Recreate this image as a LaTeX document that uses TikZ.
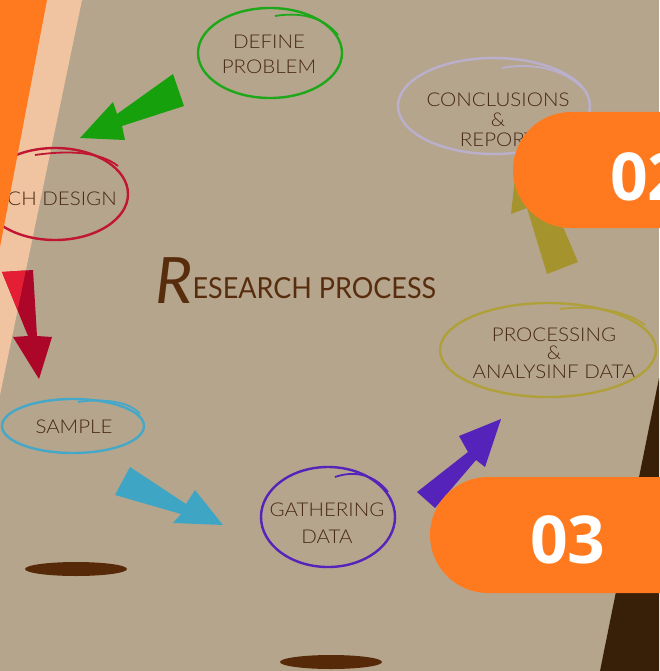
\documentclass[tikz,border=0pt]{standalone}
\usepackage{fontspec}
\setmainfont{Lato}
\IfFontExistsTF{Lato Light}{%
  \newfontfamily\stepfont[FakeStretch=1.08]{Lato Light}}{%
  \newfontfamily\stepfont[FakeStretch=1.08]{Lato}}
\newfontfamily\titlefont[FakeStretch=0.93]{Lato}
\newfontfamily\numfont{Open Sans}
\usetikzlibrary{calc,positioning}
\definecolor{paper}{RGB}{181,165,141}
\definecolor{peach}{RGB}{240,196,160}
\definecolor{bandorange}{RGB}{255,122,30}
\definecolor{darkwood}{RGB}{56,31,8}
\definecolor{shadowbrown}{RGB}{86,42,8}
\definecolor{inkbrown}{RGB}{72,40,22}
\definecolor{titlebrown}{RGB}{88,45,14}
\definecolor{stepgreen}{RGB}{30,168,25}
\definecolor{stepred}{RGB}{192,22,52}
\definecolor{stepblue}{RGB}{70,168,200}
\definecolor{steppurple}{RGB}{85,35,185}
\definecolor{stepolive}{RGB}{176,160,58}
\definecolor{steplilac}{RGB}{186,176,206}
\definecolor{arrowgreen}{RGB}{22,160,12}
\definecolor{arrowred}{RGB}{172,6,40}
\definecolor{brightred}{RGB}{228,30,52}
\definecolor{arrowblue}{RGB}{62,165,196}
\definecolor{arrowolive}{RGB}{165,148,45}

\begin{document}
\begin{tikzpicture}[x=1pt, y=-1pt,
    every node/.style={inner sep=0pt, align=center, text=inkbrown},
    steplabel/.style={font=\stepfont\fontsize{19}{#1}\selectfont},
    ring/.style={line width=2.4pt, #1},
    tail/.style={line width=1.8pt, #1}]
  \fill[paper] (0,0) rectangle (659,671);
  \useasboundingbox (0,0) rectangle (659,671);
  \fill[peach] (0,0) -- (82,0) -- (0,395) -- cycle;
  \fill[darkwood] (659,378) -- (600,671) -- (659,671) -- cycle;
  \fill[shadowbrown] (76,569) ellipse [x radius=51, y radius=7];
  \fill[shadowbrown] (331,662) ellipse [x radius=51, y radius=7];

  \node[steplabel=25] (define) at (269,54) {DEFINE\\PROBLEM};
  \node[steplabel=22, anchor=east] (design) at (117,199) {RESEARCH DESIGN};
  \node[steplabel=22] (sample) at (74,427) {SAMPLE};
  \node[steplabel=27] (gather) at (327,523) {GATHERING\\DATA};
  \node[steplabel=18.5] (process) at (554,353) {PROCESSING\\\&\\ANALYSINF DATA};
  \node[steplabel=20] (report) at (498,120) {CONCLUSIONS\\\&\\REPORT};

  \draw[ring=stepgreen] ($(define)+(1,-1)$) ellipse [x radius=72, y radius=45];
  \draw[ring=stepred] (55,194) ellipse [x radius=73, y radius=46];
  \draw[ring=stepblue] ($(sample)+(-1,-1)$) ellipse [x radius=71, y radius=27];
  \draw[ring=steppurple] ($(gather)+(1,-6)$) ellipse [x radius=67, y radius=50];
  \draw[ring=stepolive] ($(process)+(-6,-3)$) ellipse [x radius=108, y radius=47];
  \draw[ring=steplilac] ($(report)+(-4,-14)$) ellipse [x radius=96, y radius=48];

  \draw[tail=stepgreen] (275,16) .. controls (305,11) and (326,20) .. (338,35);
  \draw[tail=stepred] (35,155) .. controls (70,150) and (100,152) .. (118,166);
  \draw[tail=stepblue] (78,402) .. controls (105,398) and (130,402) .. (140,414);
  \draw[tail=steppurple] (335,477) .. controls (355,470) and (375,475) .. (388,492);
  \draw[tail=stepolive] (560,309) .. controls (590,305) and (625,310) .. (645,325);
  \draw[tail=steplilac] (502,68) .. controls (535,62) and (565,70) .. (582,88);

  \fill[arrowgreen] (173,74) -- (117,114) -- (113,102) -- (80,138) -- (125,140) -- (122,126) -- (184,106) -- cycle;
  \begin{scope}
    \clip (2,272) -- (33,270) -- (37,336) -- (52,337) -- (39,379) -- (13,337) -- (28,336) -- cycle;
    \fill[arrowred] (0,260) rectangle (60,390);
    \fill[brightred] (0,0) -- (82,0) -- (0,395) -- cycle;
  \end{scope}
  \fill[arrowblue] (130,467) -- (186,504) -- (195,490) -- (223,525) -- (173,523) -- (181,514) -- (115,495) -- cycle;
  \fill[steppurple] (417,492) -- (468,452) -- (459,436) -- (501,419) -- (485,467) -- (476,460) -- (435,508) -- cycle;
  \fill[arrowolive] (517,160) -- (565,196) -- (552,201) -- (578,262) -- (547,274) -- (527,208) -- (511,214) -- cycle;

  \node[anchor=base west, text=titlebrown] (title) at (155,303)
    {{\fontsize{64}{64}\selectfont\itshape R}\raisebox{5pt}{\titlefont\fontsize{29}{29}\selectfont ESEARCH PROCESS}};

  \fill[bandorange] (0,0) -- (47,0) -- (0,247) -- cycle;
  \fill[bandorange, rounded corners=58pt] (513,112) rectangle (780,228);
  \fill[bandorange, rounded corners=58pt] (430,477) rectangle (780,593);
  \node[font=\numfont\bfseries\fontsize{66}{66}\selectfont, text=white, anchor=west] (two) at (610,177) {02};
  \node[font=\numfont\bfseries\fontsize{66}{66}\selectfont, text=white, anchor=west] (three) at (530,540) {03};
\end{tikzpicture}
\end{document}
